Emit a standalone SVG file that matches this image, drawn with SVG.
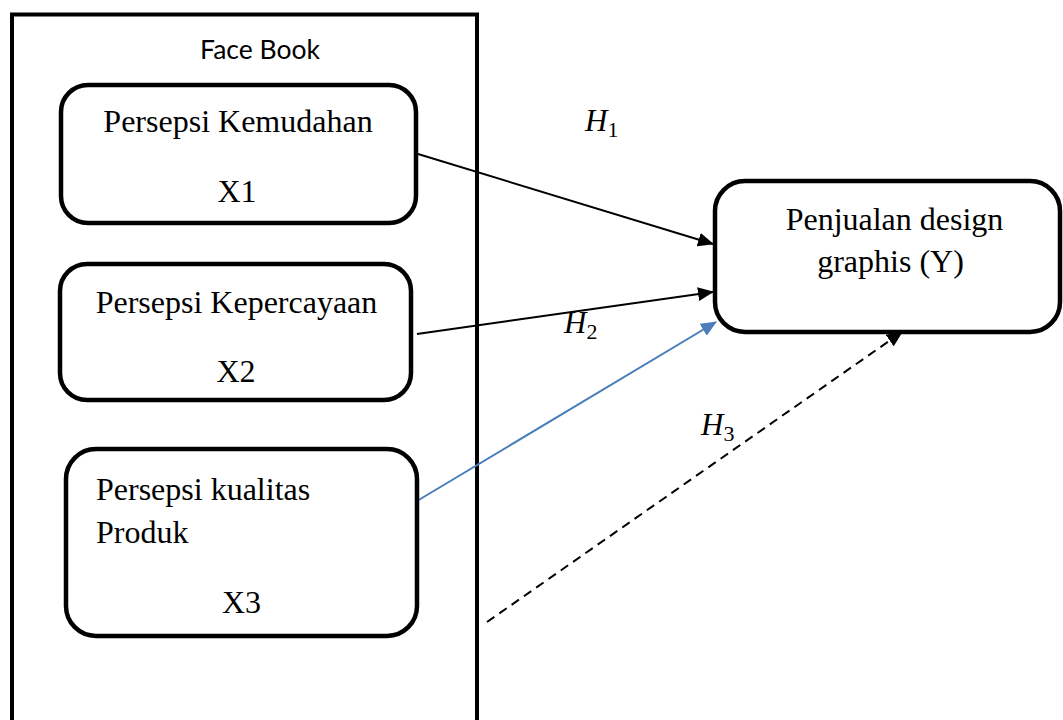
<svg xmlns="http://www.w3.org/2000/svg" width="1063" height="720" viewBox="0 0 1063 720">
<style>
.box{fill:#fff;stroke:#000;stroke-width:4.5}
.t{font-family:"Liberation Serif","Times New Roman",serif;font-size:32px;fill:#000}
.h{font-family:"Liberation Serif","Times New Roman",serif;font-style:italic;font-size:31px;fill:#000}
.sub{font-family:"Liberation Serif","Times New Roman",serif;font-style:normal;font-size:22px}
.con{fill:none;stroke:#000;stroke-width:2}
</style>
<defs>
<marker id="ah" markerUnits="userSpaceOnUse" viewBox="0 0 16 14" refX="15" refY="7" markerWidth="16" markerHeight="14" orient="auto"><path d="M0,0 L16,7 L0,14 z" fill="#000"/></marker>
<marker id="ahb" markerUnits="userSpaceOnUse" viewBox="0 0 16 14" refX="15" refY="7" markerWidth="16" markerHeight="14" orient="auto"><path d="M0,0 L16,7 L0,14 z" fill="#4a7ebb"/></marker>
</defs>
<rect width="1063" height="720" fill="#fff"/>
<g id="facebook">
<rect x="12" y="14.5" width="465" height="720" fill="none" stroke="#000" stroke-width="4"/>
<text x="260" y="59" text-anchor="middle" font-family="Lato,'Open Sans',sans-serif" font-size="26.5">Face Book</text>
</g>
<g id="connectors">
<line class="con" x1="418" y1="154" x2="713" y2="244" marker-end="url(#ah)"/>
<line class="con" x1="417" y1="334" x2="713" y2="292" marker-end="url(#ah)"/>
<line x1="417" y1="501" x2="716" y2="322" stroke="#4a7ebb" stroke-width="2" marker-end="url(#ahb)"/>
<line class="con" x1="487" y1="622" x2="902" y2="332" stroke-dasharray="9 6" marker-end="url(#ah)"/>
</g>
<g id="x1">
<rect class="box" x="61" y="85" width="355" height="138" rx="27"/>
<text class="t" x="238" y="132" text-anchor="middle">Persepsi Kemudahan</text>
<text class="t" x="237" y="202" text-anchor="middle">X1</text>
</g>
<g id="x2">
<rect class="box" x="60" y="264" width="351" height="136" rx="27"/>
<text class="t" x="236.5" y="313" text-anchor="middle">Persepsi Kepercayaan</text>
<text class="t" x="236" y="382" text-anchor="middle">X2</text>
</g>
<g id="x3">
<rect class="box" x="66" y="449" width="351" height="187" rx="30"/>
<text class="t" x="96" y="500">Persepsi kualitas</text>
<text class="t" x="96" y="543">Produk</text>
<text class="t" x="241.5" y="613" text-anchor="middle">X3</text>
</g>
<g id="y">
<rect class="box" x="715" y="181" width="345" height="151" rx="30"/>
<text class="t" x="894.5" y="230" text-anchor="middle">Penjualan design</text>
<text class="t" x="890.5" y="272" text-anchor="middle">graphis (Y)</text>
</g>
<g id="labels">
<text class="h" x="585" y="131">H<tspan class="sub" dy="6">1</tspan></text>
<text class="h" x="564" y="333">H<tspan class="sub" dy="6">2</tspan></text>
<text class="h" x="701" y="435">H<tspan class="sub" dy="6">3</tspan></text>
</g>
</svg>
